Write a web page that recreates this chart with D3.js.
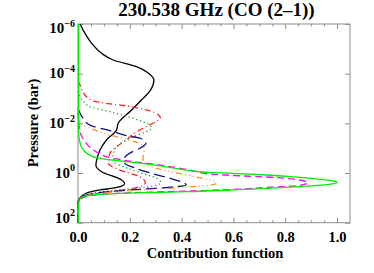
<!DOCTYPE html>
<html><head><meta charset="utf-8">
<script src="https://cdn.jsdelivr.net/npm/d3@7"></script>
<style>
html,body{margin:0;padding:0;background:#fff;}
svg text{font-family:"Liberation Serif","Times New Roman",serif;font-weight:bold;fill:#000;}
</style></head>
<body><svg id="c" width="374" height="273"></svg>
<script>
// ---- data (log10 of pressure in bar, contribution function) ----
const titleText = "230.538 GHz (CO (2\u20131))";
const xLabel = "Contribution function";
const yLabel = "Pressure (bar)";
const xMajorTicks = [0, 0.2, 0.4, 0.6, 0.8, 1.0];
const xMinorTicks = [0.05,0.1,0.15,0.25,0.3,0.35,0.45,0.5,0.55,0.65,0.7,0.75,0.85,0.9,0.95];
const yTickExp = [-6, -4, -2, 0, 2];

const blackLogP = [-6,-5.62,-5.22,-4.82,-4.55,-4.28,-4.0,-3.75,-3.34,-2.94,-2.54,-2.0,-1.73,-1.33,-0.93,-0.52,-0.32,-0.05,0.28,0.42,0.52,0.6,0.68,0.78,0.89,1.0,1.1,1.3,2];
const blackCF   = [0.008,0.027,0.053,0.091,0.136,0.226,0.275,0.293,0.28,0.245,0.207,0.155,0.149,0.11,0.085,0.072,0.069,0.091,0.168,0.18,0.17,0.14,0.085,0.04,0.02,0.008,0.002,0,0];

const redLogP = [-3.7,-3.54,-3.3,-3.07,-2.87,-2.7,-2.54,-2.35,-2.22,-2.07,-1.8,-1.55,-1.33,-1.06,-0.79,-0.39,-0.12,0.15,0.39,0.62,0.75,0.89,1.0,1.2,2];
const redCF   = [0,0.008,0.018,0.033,0.072,0.187,0.264,0.31,0.318,0.3,0.25,0.21,0.187,0.149,0.123,0.117,0.162,0.239,0.26,0.213,0.123,0.046,0.015,0.002,0];

const gdotLogP = [-3.3,-3.07,-2.85,-2.67,-2.47,-2.2,-1.93,-1.8,-1.65,-1.45,-1.2,-0.9,-0.66,-0.4,-0.2,0.0,0.2,0.38,0.5,0.62,0.72,0.82,0.92,1.1,1.3,2];
const gdotCF   = [0,0.008,0.025,0.046,0.123,0.213,0.277,0.284,0.26,0.21,0.165,0.14,0.135,0.145,0.19,0.245,0.3,0.32,0.3,0.22,0.12,0.05,0.015,0.003,0,0];

const navyLogP = [-2.6,-2.47,-2.2,-1.93,-1.67,-1.5,-1.4,-1.2,-1.0,-0.8,-0.6,-0.4,-0.2,0.0,0.2,0.4,0.48,0.56,0.65,0.75,0.85,0.95,1.1,1.3,2];
const navyCF   = [0,0.005,0.02,0.046,0.136,0.19,0.24,0.262,0.24,0.2,0.18,0.18,0.22,0.28,0.35,0.41,0.418,0.37,0.25,0.12,0.05,0.015,0.003,0,0];

const orangeLogP = [-2.3,-2.1,-1.9,-1.75,-1.61,-1.4,-1.2,-1.0,-0.8,-0.6,-0.45,-0.32,-0.1,0.1,0.3,0.42,0.5,0.58,0.66,0.75,0.85,0.95,1.1,1.3,2];
const orangeCF   = [0,0.004,0.025,0.06,0.096,0.17,0.235,0.255,0.255,0.25,0.255,0.264,0.34,0.43,0.51,0.534,0.5,0.4,0.28,0.15,0.06,0.02,0.004,0,0];

const magentaLogP = [-2.5,-1.8,-1.26,-1.0,-0.8,-0.6,-0.45,-0.3,-0.1,0.03,0.1,0.16,0.26,0.39,0.52,0.58,0.66,0.71,0.78,0.85,0.95,1.1,1.3,2];
const magentaCF   = [0.001,0.005,0.027,0.05,0.08,0.13,0.22,0.33,0.44,0.5,0.6,0.727,0.84,0.887,0.84,0.727,0.6,0.47,0.25,0.1,0.03,0.006,0,0];

const greenLogP = [-6,-3,-1.73,-1.2,-0.93,-0.75,-0.62,-0.55,-0.48,-0.4,-0.25,-0.1,-0.03,0.013,0.08,0.175,0.32,0.376,0.44,0.55,0.62,0.68,0.75,0.8,0.85,0.9,1.0,1.15,1.5,2];
const greenCF   = [0.002,0.002,0.002,0.008,0.02,0.04,0.07,0.11,0.17,0.24,0.34,0.43,0.5,0.6,0.727,0.855,0.983,1.0,0.983,0.855,0.727,0.6,0.42,0.22,0.1,0.04,0.012,0.003,0.002,0.002];

const series = [
  {p: blackLogP,   v: blackCF,   color: "#000000", dash: null},
  {p: redLogP,     v: redCF,     color: "#ff2020", dash: "6,3,1,3"},
  {p: gdotLogP,    v: gdotCF,    color: "#2ca02c", dash: "1.3,2.7"},
  {p: navyLogP,    v: navyCF,    color: "#10108a", dash: "11,5"},
  {p: orangeLogP,  v: orangeCF,  color: "#ff8c30", dash: "6,3,1,3,1,3,1,3"},
  {p: magentaLogP, v: magentaCF, color: "#ff00ff", dash: "7,4"},
  {p: greenLogP,   v: greenCF,   color: "#00ee00", dash: null}
];

// ---- chart ----
const svg = d3.select("#c");
const L = 78, R = 350, T = 24, B = 222.7;
const x = d3.scaleLinear().domain([0, 1.05]).range([L, R]);
const y = d3.scaleLog().domain([1e-6, 1e2]).range([T, B]);
const axisColor = "#8c8c8c";

function styleAxis(g){ g.select(".domain").remove(); g.selectAll("line").attr("stroke", axisColor); }

svg.append("g").attr("transform", `translate(0,${B})`)
  .call(d3.axisBottom(x).tickValues(xMinorTicks).tickSize(-2.5).tickFormat("")).call(styleAxis);
svg.append("g").attr("transform", `translate(0,${T})`)
  .call(d3.axisTop(x).tickValues(xMinorTicks).tickSize(-2.5).tickFormat("")).call(styleAxis);
const gb = svg.append("g").attr("transform", `translate(0,${B})`)
  .call(d3.axisBottom(x).tickValues(xMajorTicks).tickSize(-5).tickFormat(d3.format(".1f"))).call(styleAxis);
gb.selectAll("text").attr("y", 19).attr("dy", 0).style("font-size", "14.5px")
  .style("font-family", '"Liberation Serif",serif').style("font-weight", "bold").attr("fill", "#000");
svg.append("g").attr("transform", `translate(0,${T})`)
  .call(d3.axisTop(x).tickValues(xMajorTicks).tickSize(-5).tickFormat("")).call(styleAxis);

const yVals = yTickExp.map(e => Math.pow(10, e));
svg.append("g").attr("transform", `translate(${L},0)`)
  .call(d3.axisLeft(y).tickValues(yVals).tickSize(-5).tickFormat("")).call(styleAxis);
svg.append("g").attr("transform", `translate(${R},0)`)
  .call(d3.axisRight(y).tickValues(yVals).tickSize(-5).tickFormat("")).call(styleAxis);

// frame
svg.append("rect").attr("x", L).attr("y", T).attr("width", R - L).attr("height", B - T)
  .attr("fill", "none").attr("stroke", axisColor).attr("stroke-width", 1);

// y tick labels 10^n
yTickExp.forEach((e, i) => {
  let base = y(Math.pow(10, e)) + 4.7;
  if (i === 0) base = y(Math.pow(10, e)) + 9;
  if (i === yTickExp.length - 1) base = y(Math.pow(10, e));
  const t = svg.append("text").attr("x", 75).attr("y", base).attr("text-anchor", "end")
    .style("font-size", "15px");
  t.append("tspan").text("10");
  t.append("tspan").attr("dy", -6.5).style("font-size", "10px")
    .text(e < 0 ? "\u2212" + Math.abs(e) : String(e));
});

// curves
const line = d3.line()
  .x(d => x(d[1]))
  .y(d => y(Math.pow(10, d[0])))
  .curve(d3.curveMonotoneY);
const plot = svg.append("g");
series.forEach(s => {
  const pts = s.p.map((p, i) => [p, s.v[i]]);
  plot.append("path").attr("d", line(pts)).attr("fill", "none")
    .attr("stroke", s.color).attr("stroke-width", 1.3)
    .attr("stroke-dasharray", s.dash);
});

// titles
svg.append("text").attr("x", 216.5).attr("y", 16.3).attr("text-anchor", "middle")
  .style("font-size", "19px").text(titleText);
svg.append("text").attr("x", 215).attr("y", 258.3).attr("text-anchor", "middle")
  .style("font-size", "14.5px").text(xLabel);
svg.append("text").attr("transform", "translate(37.5,123) rotate(-90)").attr("text-anchor", "middle")
  .style("font-size", "14.5px").text(yLabel);
</script></body></html>
